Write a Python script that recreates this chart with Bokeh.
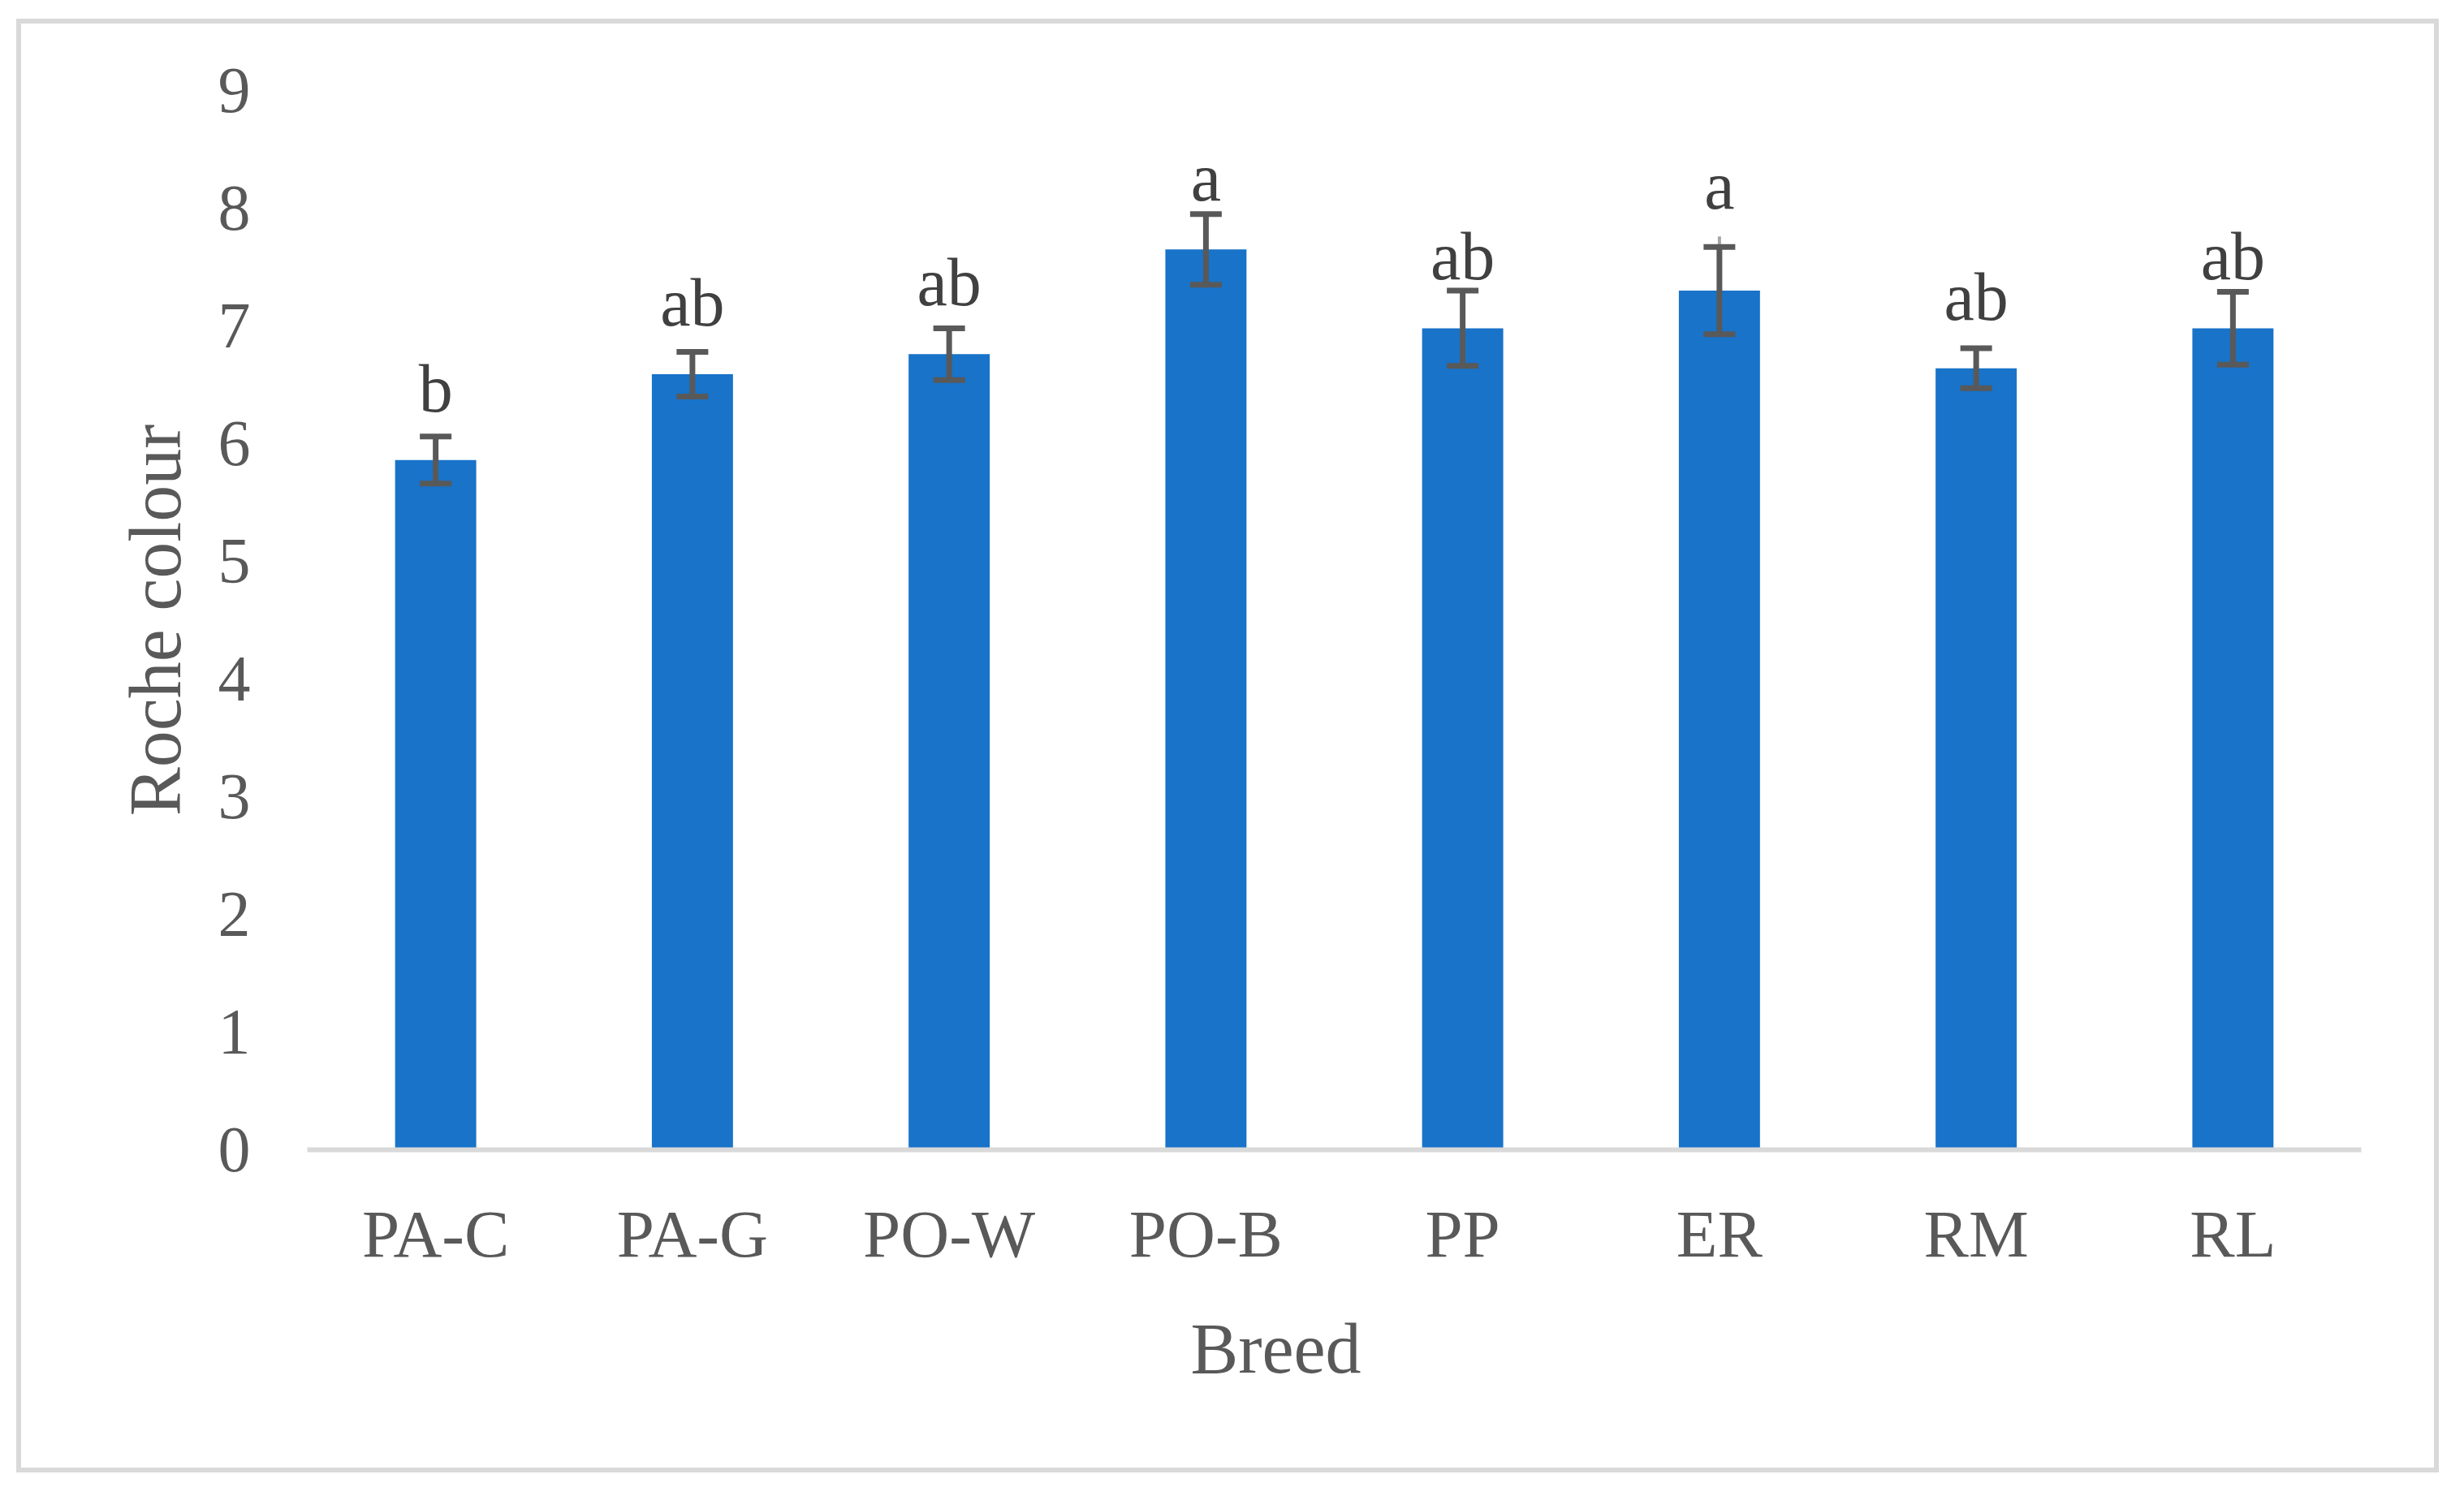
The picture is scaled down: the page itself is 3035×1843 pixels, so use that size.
import numpy as np
from bokeh.plotting import figure
from bokeh.models import Range1d, FactorRange, ColumnDataSource, Whisker, TeeHead, FixedTicker, Title
from bokeh.core.properties import value
from bokeh.embed import file_html
from bokeh.resources import INLINE

# ---- data ----
breeds = ["PA-C", "PA-G", "PO-W", "PO-B", "PP", "ER", "RM", "RL"]
means = [5.86, 6.59, 6.76, 7.65, 6.98, 7.30, 6.64, 6.98]
errors = [0.20, 0.19, 0.22, 0.30, 0.32, 0.37, 0.17, 0.31]
letters = ["b", "ab", "ab", "a", "ab", "a", "ab", "ab"]
# a lighter extra whisker line seen on ER (upper end, 0 = none)
light_top = [0, 0, 0, 0, 0, 7.76, 0, 0]
y_ticks = [0, 1, 2, 3, 4, 5, 6, 7, 8, 9]

FONT = "Liberation Serif"
m = np.array(means)
e = np.array(errors)
upper = m + e
lower = m - e
# letter placed a fixed distance above the bar (or above the light line on ER)
label_y = np.maximum(m + 0.61, np.array(light_top) + 0.43)

src = ColumnDataSource(dict(x=breeds, top=means, upper=upper, lower=lower,
                            label=letters, label_y=label_y))

W, H = 2972, 1779
p = figure(width=W, height=H, x_range=FactorRange(*breeds, range_padding=0),
           y_range=Range1d(0, 9), output_backend="svg", toolbar_location=None,
           min_border_left=352, min_border_right=90, min_border_top=82,
           min_border_bottom=392, margin=(29, 0, 0, 26))
p.styles = {"outline": "6px solid #d9d9d9", "outline-offset": "0px"}
p.outline_line_color = None
p.grid.visible = False
p.background_fill_color = "white"
p.border_fill_color = "white"

p.vbar(x="x", top="top", bottom=0, width=0.316, source=src,
       fill_color="#1873c9", line_color=None)

# light extra line on ER
lx = [b for b, t in zip(breeds, light_top) if t > 0]
ly0 = [mm for mm, t in zip(means, light_top) if t > 0]
ly1 = [t for t in light_top if t > 0]
p.segment(x0=lx, y0=ly0, x1=lx, y1=ly1, line_color="#a6a6a6", line_width=4)

wh = Whisker(source=src, base="x", upper="upper", lower="lower",
             line_color="#595959", line_width=7, level="overlay",
             upper_head=TeeHead(size=39, line_color="#595959", line_width=7),
             lower_head=TeeHead(size=39, line_color="#595959", line_width=7))
p.add_layout(wh)

p.text(x="x", y="label_y", text="label", source=src, text_align="center",
       text_baseline="alphabetic", text_font=value(FONT), text_font_size="84px",
       text_color="#404040")

# axes
xa = p.xaxis[0]
xa.axis_line_color = "#d9d9d9"
xa.axis_line_width = 6
xa.major_tick_line_color = None
xa.minor_tick_line_color = None
xa.major_tick_in = 0
xa.major_tick_out = 0
xa.major_label_text_font = FONT
xa.major_label_text_font_size = "83px"
xa.major_label_text_color = "#595959"
xa.major_label_standoff = 57

p.add_layout(Title(text="Breed", align="left", offset=1088, standoff=84,
                   text_font=FONT, text_font_size="88px",
                   text_font_style="normal", text_color="#595959"), "below")

ya = p.yaxis[0]
ya.ticker = FixedTicker(ticks=y_ticks)
ya.axis_line_color = None
ya.major_tick_line_color = None
ya.minor_tick_line_color = None
ya.major_tick_in = 0
ya.major_tick_out = 0
ya.major_label_text_font = FONT
ya.major_label_text_font_size = "80px"
ya.major_label_text_color = "#595959"
ya.major_label_standoff = 70
ya.axis_label = "Roche colour"
ya.axis_label_text_font = FONT
ya.axis_label_text_font_size = "90px"
ya.axis_label_text_font_style = "normal"
ya.axis_label_text_color = "#595959"
ya.axis_label_standoff = 25

open("out.html", "w").write(file_html(p, INLINE))
